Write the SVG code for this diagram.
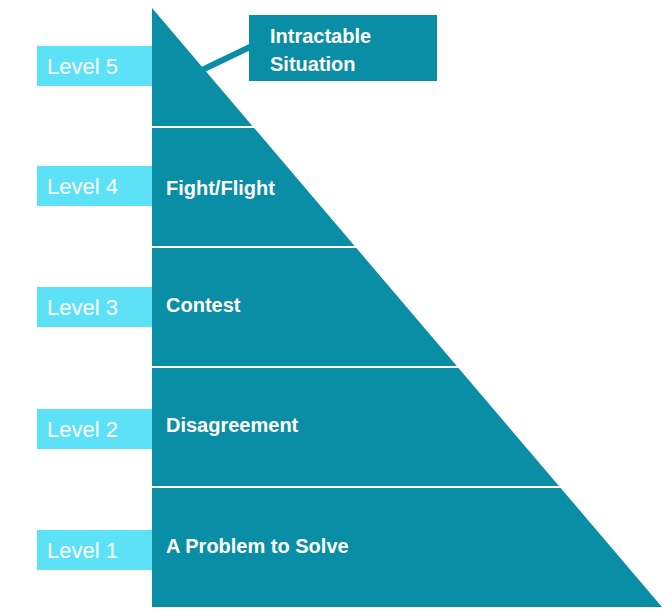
<svg xmlns="http://www.w3.org/2000/svg" width="672" height="616" viewBox="0 0 672 616">
<style>
.band{fill:#0a8ea5}
.lvl{fill:#5ce1f7}
.lt{font-family:"Liberation Sans",Arial,sans-serif;font-size:22px;fill:#fff}
.bt{font-family:"Liberation Sans",Arial,sans-serif;font-size:20px;font-weight:bold;fill:#fff}
</style>
<rect width="672" height="616" fill="#fff"/>
<g id="level5"><rect class="lvl" x="37" y="46" width="115" height="40"/><text class="lt" x="47" y="74">Level 5</text></g>
<g id="level4"><rect class="lvl" x="37" y="166" width="115" height="40"/><text class="lt" x="47" y="194">Level 4</text></g>
<g id="level3"><rect class="lvl" x="37" y="287" width="115" height="40"/><text class="lt" x="47" y="315">Level 3</text></g>
<g id="level2"><rect class="lvl" x="37" y="409" width="115" height="40"/><text class="lt" x="47" y="437">Level 2</text></g>
<g id="level1"><rect class="lvl" x="37" y="530" width="115" height="40"/><text class="lt" x="47" y="558">Level 1</text></g>
<g id="pyramid">
<polygon class="band" points="152,8 152,607 662,607"/>
<g stroke="#fff" stroke-width="2">
<line x1="152" y1="127" x2="256" y2="127"/>
<line x1="152" y1="247" x2="358" y2="247"/>
<line x1="152" y1="367" x2="460" y2="367"/>
<line x1="152" y1="487" x2="562" y2="487"/>
</g>
</g>
<g id="band4"><text class="bt" x="166" y="195">Fight/Flight</text></g>
<g id="band3"><text class="bt" x="166" y="312">Contest</text></g>
<g id="band2"><text class="bt" x="166" y="432">Disagreement</text></g>
<g id="band1"><text class="bt" x="166" y="553">A Problem to Solve</text></g>
<g id="connectors"><line x1="202" y1="70" x2="252" y2="46" stroke="#0a8ea5" stroke-width="6"/></g>
<g id="callout"><rect class="band" x="249" y="15" width="188" height="66"/>
<text class="bt" x="270" y="43">Intractable</text><text class="bt" x="270" y="71">Situation</text></g>
</svg>
